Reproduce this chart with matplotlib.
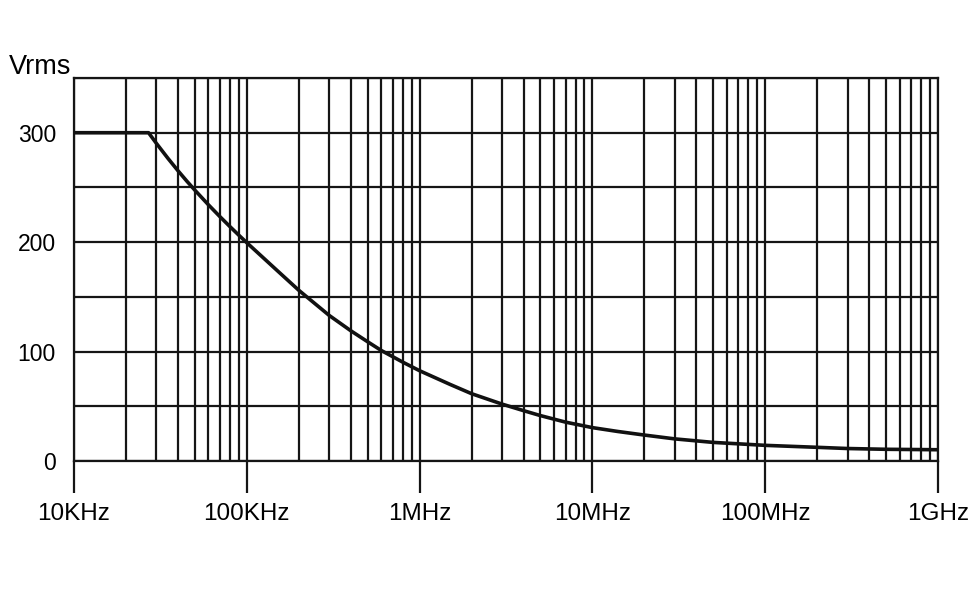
import numpy as np
import matplotlib
matplotlib.use("Agg")
import matplotlib.pyplot as plt
from matplotlib.ticker import FixedLocator, FuncFormatter, NullFormatter

plt.rcParams["font.family"] = ["Liberation Sans", "DejaVu Sans"]

# frequency (kHz) vs max voltage (Vrms)
freq_khz = [10, 27, 30, 35, 40, 45, 50, 60, 70, 80, 90, 100, 150, 200, 300,
            400, 500, 600, 800, 1000, 1500, 2000, 3000, 4000, 5000, 7000,
            10000, 14000, 20000, 30000, 50000, 100000, 200000, 300000,
            500000, 1000000]
vrms = [300, 300, 290.2, 276.5, 265.2, 255.7, 247.6, 234.1, 223.2, 214.1,
        206.3, 199.5, 174, 156, 133,
        119, 109, 101, 90.3, 82.5, 70, 61.5, 52, 46, 41.5, 35.5,
        30.5, 27, 23.7, 20.2, 17, 14.3, 12.5, 11.4,
        10.7, 10.3]

decades = [1e4, 1e5, 1e6, 1e7, 1e8, 1e9]
decade_labels = ["10KHz", "100KHz", "1MHz", "10MHz", "100MHz", "1GHz"]
y_grid = [0, 50, 100, 150, 200, 250, 300, 350]
y_labels = {0: "0", 100: "100", 200: "200", 300: "300"}

fig = plt.figure(figsize=(9.7, 6), dpi=100)
ax = fig.add_axes([74 / 970, 139 / 600, 864 / 970, 383 / 600])

f = np.array(freq_khz) * 1e3
ax.plot(f, vrms, color="#111111", lw=2.6, solid_capstyle="butt",
        solid_joinstyle="round", zorder=3)

ax.set_xscale("log")
ax.set_xlim(1e4, 1e9)
ax.set_ylim(0, 350)

ax.xaxis.set_major_locator(FixedLocator(decades))
ax.xaxis.set_major_formatter(FuncFormatter(lambda v, p: decade_labels[decades.index(v)] if v in decades else ""))
minors = [m * d for d in decades[:-1] for m in range(2, 10)]
ax.xaxis.set_minor_locator(FixedLocator(minors))
ax.xaxis.set_minor_formatter(NullFormatter())
ax.yaxis.set_major_locator(FixedLocator(y_grid))
ax.yaxis.set_major_formatter(FuncFormatter(lambda v, p: y_labels.get(int(round(v)), "")))

ax.grid(which="both", axis="x", color="#151515", lw=1.6)
ax.grid(which="major", axis="y", color="#151515", lw=1.6)
ax.tick_params(axis="x", which="major", direction="out", length=23, width=1.6,
               color="#151515", pad=7, labelsize=17.5)
ax.tick_params(axis="x", which="minor", length=0)
ax.tick_params(axis="y", length=0, pad=13, labelsize=16.5)

for s in ax.spines.values():
    s.set_color("#151515")
    s.set_linewidth(1.6)

ax.text(-0.075, 0.995, "Vrms", transform=ax.transAxes, fontsize=19.5,
        ha="left", va="bottom")

fig.savefig("out.png", dpi=100, facecolor="white")
